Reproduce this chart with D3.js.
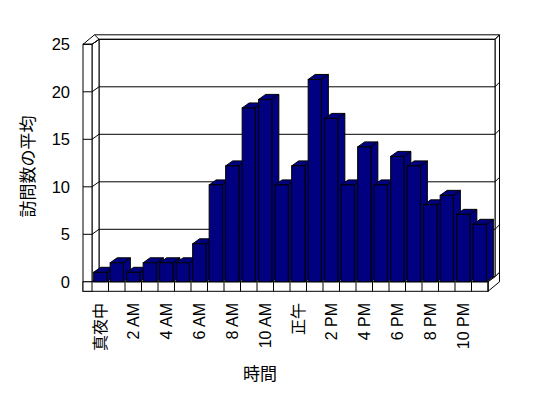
<!DOCTYPE html>
<html><head><meta charset="utf-8">
<script src="https://cdn.jsdelivr.net/npm/d3@7"></script>
<style>
html,body{margin:0;padding:0;background:#fff;}
svg{display:block;}
text{font-family:"Liberation Sans","Noto Sans CJK JP",sans-serif;fill:#000;}
</style></head>
<body>
<svg id="chart" width="548" height="398"></svg>
<script>
const categories = ["真夜中","1 AM","2 AM","3 AM","4 AM","5 AM","6 AM","7 AM","8 AM","9 AM","10 AM","11 AM",
                    "正午","1 PM","2 PM","3 PM","4 PM","5 PM","6 PM","7 PM","8 PM","9 PM","10 PM","11 PM"];
const visits = [1, 2, 1, 2, 2, 2, 4, 10.2, 12.2, 18.3, 19.2, 10.2,
                12.2, 21.3, 17.2, 10.2, 14.2, 10.2, 13.2, 12.2, 8.1, 9.1, 7.1, 6.05];
const xTickLabels = ["真夜中","2 AM","4 AM","6 AM","8 AM","10 AM","正午","2 PM","4 PM","6 PM","8 PM","10 PM"];
const yTicks = [0, 5, 10, 15, 20, 25];
const xTitle = "時間";
const yTitle = "訪問数の平均";

const svg = d3.select("#chart");
const BAR = "#000080";
const xL = 92, xR = 488, wallOuter = 83;
const yBase = 281.8, yTop = 44.3, floorB = 291.3;
const d1 = [7, -5];       // front plane -> gridline plane
const d2 = [11.5, -9.5];  // front plane -> back of back wall

const x = d3.scaleBand().domain(categories).range([xL, xR]).paddingInner(0.2).paddingOuter(0.1);
const y = d3.scaleLinear().domain([0, 25]).range([yBase, yTop]);

const line = (pts) => "M" + pts.map(p => p.join(",")).join("L") + "Z";
const g = svg.append("g").attr("stroke", "#000").attr("stroke-width", 1).attr("fill", "#fff");

// back wall right face
g.append("path").attr("d", line([[xR + d1[0], y(25) + d1[1]], [xR + d2[0], y(25) + d2[1]], [xR + d2[0], yBase + d2[1]], [xR + d1[0], yBase + d1[1]]]));
// back wall top edge
g.append("path").attr("fill", "none")
  .attr("d", `M${wallOuter + d2[0]},${y(25) + d2[1]}L${xR + d2[0]},${y(25) + d2[1]}`);
// back wall face
g.append("rect").attr("x", xL + d1[0]).attr("y", y(25) + d1[1])
  .attr("width", xR - xL).attr("height", yBase - y(25));

// gridlines on back wall and right face
yTicks.filter(v => v > 0).forEach(v => {
  g.append("path").attr("fill", "none")
    .attr("d", `M${xL + d1[0]},${y(v) + d1[1]}L${xR + d1[0]},${y(v) + d1[1]}L${xR + d2[0]},${y(v) + d2[1]}`);
});

// left wall inner face
g.append("path").attr("d", line([[xL, y(25)], [xL + d1[0], y(25) + d1[1]], [xL + d1[0], yBase + d1[1]], [xL, yBase]]));
// left wall top face
g.append("path").attr("d", line([[wallOuter, y(25)], [xL, y(25)], [xL + d1[0], y(25) + d1[1]], [wallOuter + d2[0], y(25) + d2[1]]]));
// left wall front edge
g.append("rect").attr("x", wallOuter).attr("y", y(25)).attr("width", xL - wallOuter).attr("height", floorB - y(25));
// ticks on left wall
yTicks.forEach(v => {
  g.append("path").attr("fill", "none")
    .attr("d", `M${wallOuter},${y(v)}L${xL},${y(v)}L${xL + d1[0]},${y(v) + d1[1]}`);
});

// floor top face
g.append("path").attr("d", line([[xL, yBase], [xR, yBase], [xR + d1[0], yBase + d1[1]], [xL + d1[0], yBase + d1[1]]]));
// floor right face
g.append("path").attr("d", line([[xR, yBase], [xR, floorB], [xR + d2[0], floorB + d2[1]], [xR + d2[0], yBase + d2[1]], [xR + d1[0], yBase + d1[1]]]));
// floor front face
g.append("rect").attr("x", wallOuter).attr("y", yBase).attr("width", xR - wallOuter).attr("height", floorB - yBase);
const step = x.step();
d3.range(categories.length + 1).forEach(i => {
  const xx = xL + i * step;
  g.append("path").attr("fill", "none").attr("d", `M${xx},${yBase}L${xx},${floorB}`);
});

// bars
const bars = g.selectAll("g.bar").data(categories.map((c, i) => ({ c, v: visits[i] })))
  .join("g").attr("class", "bar").attr("fill", BAR);
bars.each(function (d) {
  const b = d3.select(this);
  const x0 = x(d.c), x1 = x0 + x.bandwidth(), yt = y(d.v);
  b.append("path").attr("d", line([[x1, yt], [x1 + d1[0], yt + d1[1]], [x1 + d1[0], yBase + d1[1]], [x1, yBase]]));
  b.append("path").attr("d", line([[x0, yt], [x1, yt], [x1 + d1[0], yt + d1[1]], [x0 + d1[0], yt + d1[1]]]));
  b.append("rect").attr("x", x0).attr("y", yt).attr("width", x.bandwidth()).attr("height", yBase - yt);
});

// y axis labels
const yAxis = svg.append("g").attr("transform", "translate(70,0)")
  .call(d3.axisLeft(y).tickValues(yTicks).tickSize(0).tickPadding(0).tickFormat(d3.format("d")));
yAxis.select(".domain").remove();
yAxis.selectAll("text").attr("font-size", 16.5).attr("fill", "#000")
  .attr("font-family", "Liberation Sans, Noto Sans CJK JP, sans-serif");

// x axis labels
const xAxis = svg.append("g").attr("transform", "translate(0,303)").attr("opacity", 0.999)
  .call(d3.axisBottom(x).tickValues(xTickLabels).tickSize(0).tickPadding(0));
xAxis.select(".domain").remove();
xAxis.selectAll("text")
  .attr("font-size", 16).attr("fill", "#000")
  .attr("font-family", "Liberation Sans, Noto Sans CJK JP, sans-serif")
  .attr("text-anchor", "end").attr("transform", "rotate(-90)")
  .attr("x", 0).attr("y", 0).attr("dy", "0.36em");

// titles
svg.append("text").attr("x", 260).attr("y", 380).attr("text-anchor", "middle")
  .attr("font-size", 17).attr("fill", "#000").text(xTitle);
svg.append("text").attr("transform", "translate(27.5,166.5) rotate(-90)")
  .attr("text-anchor", "middle").attr("dy", "0.38em").attr("font-size", 17).attr("fill", "#000").text(yTitle);
</script>
</body></html>
